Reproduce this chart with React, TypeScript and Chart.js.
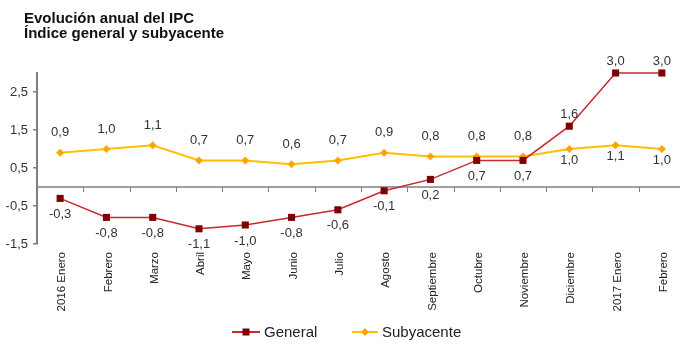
import React, { useEffect, useRef } from "react";
import { Chart, registerables } from "chart.js";
Chart.register(...registerables);

const categories = ["2016 Enero", "Febrero", "Marzo", "Abril", "Mayo", "Junio", "Julio", "Agosto", "Septiembre", "Octubre", "Noviembre", "Diciembre", "2017 Enero", "Febrero"];
const general = [-0.3, -0.8, -0.8, -1.1, -1.0, -0.8, -0.6, -0.1, 0.2, 0.7, 0.7, 1.6, 3.0, 3.0];
const subyacente = [0.9, 1.0, 1.1, 0.7, 0.7, 0.6, 0.7, 0.9, 0.8, 0.8, 0.8, 1.0, 1.1, 1.0];
const yTicks = [-1.5, -0.5, 0.5, 1.5, 2.5];
const yMin = -1.5;
const yMax = 3.0;
const titleLines = ["Evolución anual del IPC", "Índice general y subyacente"];
const seriesNames = ["General", "Subyacente"];

const GEN_LINE = "#C8282E";
const GEN_MARK = "#7F0000";
const SUB_LINE = "#FFC000";
const SUB_MARK = "#FFA500";
const AXIS = "#7F7F7F";
const TEXT = "#333333";
const FONT = "'Liberation Sans', Arial, sans-serif";

const fmt = (v: number) => v.toFixed(1).replace(".", ",");

const decorPlugin = {
  id: "decor",
  beforeDatasetsDraw(chart: any) {
    const { ctx, scales } = chart;
    const x = scales.x;
    const y = scales.y;
    const y0 = Math.round(y.getPixelForValue(0));
    ctx.save();
    ctx.strokeStyle = AXIS;
    ctx.lineWidth = 1.5;
    ctx.beginPath();
    ctx.moveTo(chart.chartArea.left, y0);
    ctx.lineTo(chart.chartArea.right, y0);
    ctx.stroke();
    ctx.lineWidth = 1;
    ctx.beginPath();
    for (let i = 1; i < categories.length; i++) {
      const bx = Math.round((x.getPixelForValue(i - 1) + x.getPixelForValue(i)) / 2) + 0.5;
      ctx.moveTo(bx, y0);
      ctx.lineTo(bx, y0 + 5);
    }
    ctx.stroke();
    ctx.restore();
  },
  afterDatasetsDraw(chart: any) {
    const { ctx, scales } = chart;
    const x = scales.x;
    const y = scales.y;
    ctx.save();
    ctx.font = `13px ${FONT}`;
    ctx.fillStyle = TEXT;
    ctx.textAlign = "center";
    ctx.textBaseline = "middle";
    for (let i = 0; i < categories.length; i++) {
      const px = x.getPixelForValue(i);
      const g = general[i];
      const s = subyacente[i];
      const gy = y.getPixelForValue(g);
      const sy = y.getPixelForValue(s);
      const genAbove = g > s;
      ctx.fillText(fmt(g), px, genAbove ? gy - 12 : gy + 16);
      ctx.fillText(fmt(s), px, genAbove ? sy + 11 : sy - 20);
    }
    ctx.restore();
  },
  afterDraw(chart: any) {
    const { ctx } = chart;
    ctx.save();
    // title
    ctx.font = `bold 15px ${FONT}`;
    ctx.fillStyle = "#111";
    ctx.textAlign = "left";
    ctx.textBaseline = "alphabetic";
    ctx.fillText(titleLines[0], 24, 23);
    ctx.fillText(titleLines[1], 24, 38);
    // legend
    const ly = 332;
    ctx.lineWidth = 2;
    ctx.strokeStyle = GEN_LINE;
    ctx.beginPath();
    ctx.moveTo(232, ly);
    ctx.lineTo(260, ly);
    ctx.stroke();
    ctx.fillStyle = GEN_MARK;
    ctx.fillRect(242.5, ly - 3.5, 7, 7);
    ctx.strokeStyle = SUB_LINE;
    ctx.beginPath();
    ctx.moveTo(352, ly);
    ctx.lineTo(378, ly);
    ctx.stroke();
    ctx.fillStyle = SUB_MARK;
    ctx.beginPath();
    ctx.moveTo(365, ly - 4);
    ctx.lineTo(369, ly);
    ctx.lineTo(365, ly + 4);
    ctx.lineTo(361, ly);
    ctx.closePath();
    ctx.fill();
    ctx.font = `15px ${FONT}`;
    ctx.fillStyle = "#222";
    ctx.textBaseline = "middle";
    ctx.fillText(seriesNames[0], 264, ly + 0.5);
    ctx.fillText(seriesNames[1], 382, ly + 0.5);
    ctx.restore();
  },
};

export default function App() {
  const ref = useRef<HTMLCanvasElement>(null);
  useEffect(() => {
    if (!ref.current) return;
    const chart = new Chart(ref.current, {
      type: "line",
      data: {
        labels: categories,
        datasets: [
          {
            label: seriesNames[0],
            data: general,
            borderColor: GEN_LINE,
            borderWidth: 1.5,
            pointStyle: "rect",
            pointRadius: 5,
            pointBackgroundColor: GEN_MARK,
            pointBorderColor: GEN_MARK,
            pointBorderWidth: 0,
            tension: 0,
            clip: false,
          } as any,
          {
            label: seriesNames[1],
            data: subyacente,
            borderColor: SUB_LINE,
            borderWidth: 2,
            pointStyle: "rectRot",
            pointRadius: 4,
            pointBackgroundColor: SUB_MARK,
            pointBorderColor: SUB_MARK,
            pointBorderWidth: 0,
            tension: 0,
            clip: false,
          } as any,
        ],
      },
      options: {
        responsive: false,
        animation: false,
        devicePixelRatio: 1,
        layout: { padding: { top: 73, left: 0, right: 0, bottom: 0 } },
        plugins: {
          legend: { display: false },
          title: { display: false },
          tooltip: { enabled: false },
        },
        scales: {
          x: {
            offset: true,
            grid: { display: false },
            border: { display: false },
            ticks: {
              autoSkip: false,
              minRotation: 90,
              maxRotation: 90,
              padding: 0,
              labelOffset: 2,
              color: "#222",
              font: { size: 11.5, family: FONT },
            },
            afterFit(scale: any) {
              scale.height = 108;
            },
          },
          y: {
            min: yMin,
            max: yMax,
            grid: { drawOnChartArea: false, drawTicks: true, tickLength: 4, color: AXIS, lineWidth: 1.5 },
            border: { display: true, color: AXIS, width: 2 },
            ticks: {
              padding: 5,
              color: "#333",
              font: { size: 13, family: FONT },
              callback: (v: any) => fmt(Number(v)),
            },
            afterBuildTicks(scale: any) {
              scale.ticks = yTicks.map((v) => ({ value: v }));
            },
            afterFit(scale: any) {
              scale.width = 37;
            },
          },
        },
      },
      plugins: [decorPlugin],
    });
    return () => chart.destroy();
  }, []);
  return (
    <div style={{ position: "absolute", left: 0, top: 0, width: 680, height: 352, overflow: "hidden", background: "#fff" }}>
      <canvas ref={ref} width={690} height={352} style={{ display: "block" }} />
    </div>
  );
}
